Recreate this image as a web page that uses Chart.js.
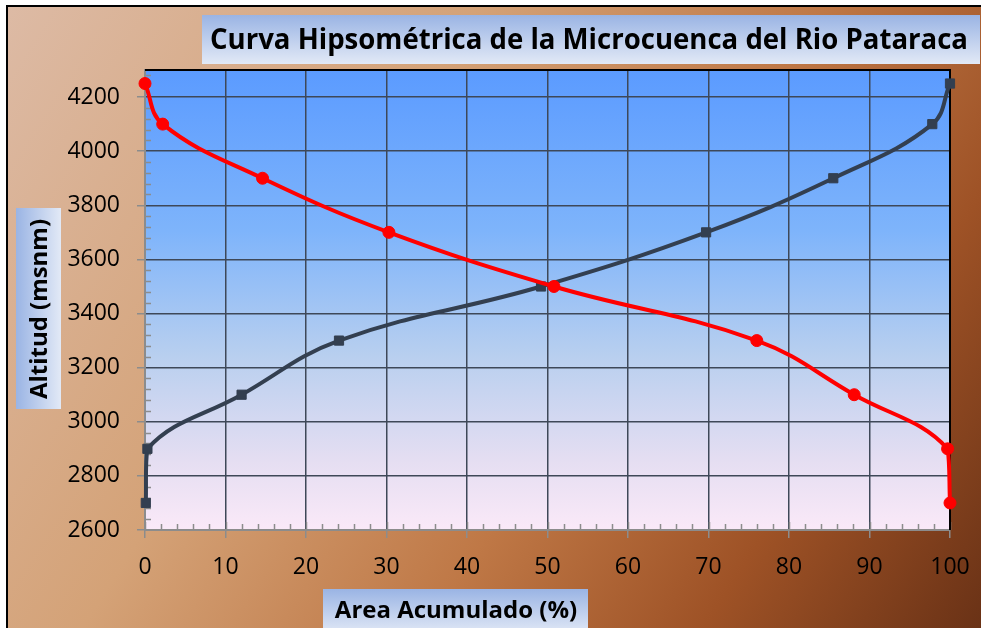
<!DOCTYPE html>
<html>
<head>
<meta charset="utf-8">
<script src="https://cdn.jsdelivr.net/npm/chart.js@4"></script>
<style>
html,body{margin:0;padding:0;background:#fff;}
#wrap{width:981px;height:628px;}
</style>
</head>
<body>
<div id="wrap"><canvas id="c" width="981" height="628"></canvas></div>
<script>
// ---- data ----
const chartTitle = "Curva Hipsométrica de la Microcuenca del Rio Pataraca";
const xTitle = "Area Acumulado (%)";
const yTitle = "Altitud (msnm)";
const xTickValues = [0, 10, 20, 30, 40, 50, 60, 70, 80, 90, 100];
const yTickValues = [2600, 2800, 3000, 3200, 3400, 3600, 3800, 4000, 4200];
// curve read descending (area above altitude)
const redArea = [0, 2.2, 14.6, 30.3, 50.8, 76.0, 88.1, 99.7, 100];
const redAlt  = [4250, 4100, 3900, 3700, 3500, 3300, 3100, 2900, 2700];
// curve read ascending (area below altitude)
const darkArea = [0.1, 0.3, 12.0, 24.1, 49.2, 69.7, 85.5, 97.8, 100];
const darkAlt  = [2700, 2900, 3100, 3300, 3500, 3700, 3900, 4100, 4250];

const toPts = (xs, ys) => xs.map((x, i) => ({x: x, y: ys[i]}));

const FONT = "'Open Sans', 'Lato', sans-serif";

function gradBox(ctx, x, y, w, h, horizontal) {
  const g = horizontal ? ctx.createLinearGradient(x, 0, x + w, 0) : ctx.createLinearGradient(0, y, 0, y + h);
  g.addColorStop(0, '#9AB4E4');
  g.addColorStop(1, '#E2E9F6');
  ctx.fillStyle = g;
  ctx.fillRect(x, y, w, h);
  ctx.fillStyle = '#000';
}

const decor = {
  id: 'decor',
  beforeDraw(chart) {
    const {ctx, chartArea: a, width, height} = chart;
    ctx.save();
    ctx.fillStyle = '#fff';
    ctx.fillRect(0, 0, width, height);
    const g = ctx.createLinearGradient(0, 0, width, height);
    g.addColorStop(0, '#DDBBA6');
    g.addColorStop(0.35, '#D4A277');
    g.addColorStop(0.6, '#BF7846');
    g.addColorStop(0.8, '#9E5226');
    g.addColorStop(1, '#6A3216');
    ctx.fillStyle = g;
    ctx.fillRect(8, 7, width - 8, height - 7);
    ctx.fillStyle = '#000';
    ctx.fillRect(6, 5, 2, height - 5);
    ctx.fillRect(6, 5, width - 6, 2);

    // plot area background
    const pg = ctx.createLinearGradient(0, a.top, 0, a.bottom);
    pg.addColorStop(0, '#5B9BFF');
    pg.addColorStop(0.35, '#7EB4FB');
    pg.addColorStop(0.62, '#B8CFEF');
    pg.addColorStop(0.85, '#E5DEF2');
    pg.addColorStop(1, '#FAE9F8');
    ctx.fillStyle = pg;
    ctx.fillRect(a.left, a.top, a.right - a.left, a.bottom - a.top);

    ctx.textAlign = 'center';
    ctx.textBaseline = 'middle';

    // title
    gradBox(ctx, 202, 15, 778, 49, false);
    ctx.font = "bold 28px " + FONT;
    ctx.fillText(chartTitle, 589, 41, 758);

    // x axis title
    gradBox(ctx, 323, 589, 265, 45, false);
    ctx.font = "bold 24px " + FONT;
    ctx.fillText(xTitle, 456, 611, 248);

    // y axis title
    gradBox(ctx, 16, 208, 45, 201, true);
    ctx.save();
    ctx.translate(40, 309);
    ctx.rotate(-Math.PI / 2);
    ctx.font = "bold 24px " + FONT;
    ctx.fillStyle = '#000';
    ctx.fillText(yTitle, 0, 0, 180);
    ctx.restore();
    ctx.restore();
  },
  beforeDatasetsDraw(chart) {
    const {ctx, chartArea: a, scales} = chart;
    const xs = scales.x, ys = scales.y;
    ctx.save();
    ctx.strokeStyle = '#8C8C8C';
    ctx.lineWidth = 1.5;
    ctx.beginPath();
    for (let v = xs.min; v < xs.max; v += 2) {
      if (v % 10 === 0) continue;
      const px = Math.round(xs.getPixelForValue(v)) + 0.5;
      ctx.moveTo(px, a.bottom); ctx.lineTo(px, a.bottom - 6);
    }
    for (let v = ys.min; v <= ys.max; v += 40) {
      if ((v - ys.min) % 200 === 0) continue;
      const py = Math.round(ys.getPixelForValue(v)) + 0.5;
      ctx.moveTo(a.left, py); ctx.lineTo(a.left + 6, py);
    }
    for (const v of xTickValues) {
      const px = Math.round(xs.getPixelForValue(v)) + 0.5;
      ctx.moveTo(px, a.bottom); ctx.lineTo(px, a.bottom - 8);
    }
    ctx.stroke();
    // plot border top and right
    ctx.fillStyle = '#000';
    ctx.fillRect(a.left, a.top - 1, a.right - a.left + 1, 2);
    ctx.fillRect(a.right - 1, a.top - 1, 2, a.bottom - a.top + 1);
    ctx.restore();
  }
};

new Chart(document.getElementById('c'), {
  type: 'scatter',
  data: {
    datasets: [
      {
        label: 'desc',
        data: toPts(redArea, redAlt),
        showLine: true,
        tension: 0.4,
        borderColor: '#FF0000',
        backgroundColor: '#FF0000',
        borderWidth: 4,
        pointStyle: 'circle',
        pointRadius: 6,
        pointBorderWidth: 1,
        pointBackgroundColor: '#FF0000',
        pointBorderColor: '#FF0000',
        clip: false
      },
      {
        label: 'asc',
        data: toPts(darkArea, darkAlt),
        showLine: true,
        tension: 0.4,
        borderColor: '#333F50',
        backgroundColor: '#333F50',
        borderWidth: 4,
        pointStyle: 'rect',
        pointRadius: 6.5,
        pointBorderWidth: 1,
        pointBackgroundColor: '#333F50',
        pointBorderColor: '#333F50',
        clip: false
      }
    ]
  },
  plugins: [decor],
  options: {
    responsive: false,
    animation: false,
    events: [],
    layout: {padding: {top: 70, right: 31, left: 0, bottom: 0}},
    plugins: {legend: {display: false}, tooltip: {enabled: false}, title: {display: false}},
    scales: {
      x: {
        type: 'linear',
        min: 0, max: 100,
        afterBuildTicks(scale) { scale.ticks = xTickValues.map(v => ({value: v})); },
        afterFit(scale) { scale.height = 98; scale.paddingLeft = 0; scale.paddingRight = 0; },
        grid: {color: '#3E4858', lineWidth: 1.5, drawTicks: true, tickLength: 8, tickColor: '#8C8C8C', tickWidth: 1.5},
        border: {display: true, color: '#8C8C8C', width: 2},
        ticks: {color: '#000', font: {family: FONT, size: 23}, padding: 16, maxRotation: 0,
                callback: v => String(v)}
      },
      y: {
        type: 'linear',
        min: 2600, max: 4300,
        afterBuildTicks(scale) { scale.ticks = yTickValues.map(v => ({value: v})); },
        afterFit(scale) { scale.width = 145; scale.paddingTop = 0; scale.paddingBottom = 0; },
        grid: {color: '#3E4858', lineWidth: 1.5, drawTicks: true, tickLength: 8, tickColor: '#8C8C8C', tickWidth: 1.5},
        border: {display: true, color: '#8C8C8C', width: 2},
        ticks: {color: '#000', font: {family: FONT, size: 23}, padding: 17,
                callback: v => String(v)}
      }
    }
  }
});
</script>
</body>
</html>
